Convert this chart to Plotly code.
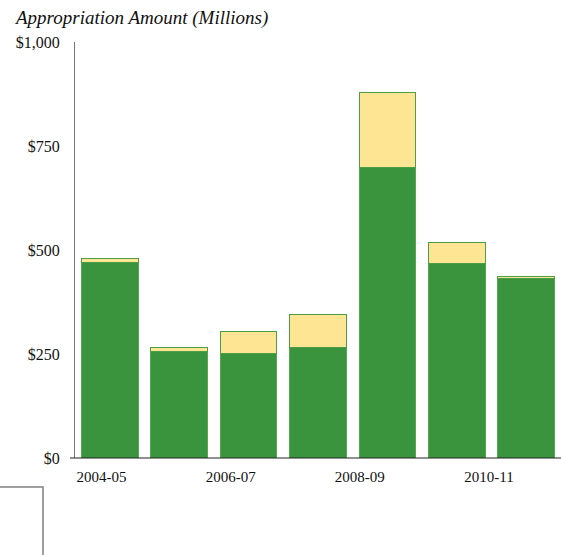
import plotly.graph_objects as go

categories = ["2004-05", "2005-06", "2006-07", "2007-08", "2008-09", "2009-10", "2010-11"]
base_values = [471, 257, 252, 265, 698, 468, 432]
additional_values = [9, 9, 51, 80, 180, 50, 4]
tick_labels = ["2004-05", "2006-07", "2008-09", "2010-11"]
y_tick_vals = [0, 250, 500, 750, 1000]
y_tick_text = ["$0", "$250", "$500", "$750", "$1,000"]

FONT = "Liberation Serif, Times New Roman, serif"
GREEN = "#3a943e"
YELLOW = "#fee594"
EDGE = "#55a84f"

fig = go.Figure()
fig.add_trace(go.Bar(x=categories, y=base_values, marker=dict(color=GREEN, line=dict(color=EDGE, width=1)),
                     name="Base", showlegend=False, hoverinfo="y"))
fig.add_trace(go.Bar(x=categories, y=additional_values, marker=dict(color=YELLOW, line=dict(color="#4a9e44", width=1)),
                     name="Additional", showlegend=False, hoverinfo="y"))

# label axis (offset label placement as in the original)
label_idx = [categories.index(t) for t in tick_labels]
fig.add_trace(go.Scatter(x=[label_idx[0]], y=[0], xaxis="x2", mode="markers",
                         marker=dict(opacity=0), showlegend=False, hoverinfo="skip"))

fig.update_layout(
    width=561, height=555,
    margin=dict(l=75, r=0, t=42, b=97, autoexpand=False),
    paper_bgcolor="white", plot_bgcolor="white",
    barmode="stack", bargap=0.18,
    font=dict(family=FONT, size=15, color="#111"),
    xaxis=dict(showticklabels=False, showgrid=False, zeroline=False, automargin=False,
               showline=False, ticks=""),
    xaxis2=dict(overlaying="x", anchor="y", side="bottom", range=[-0.41, 7.115],
                tickmode="array", tickvals=label_idx, ticktext=tick_labels, automargin=False,
                showgrid=False, zeroline=False, showline=False, ticks="", ticklabelstandoff=8,
                tickfont=dict(family=FONT, size=15, color="#111")),
    yaxis=dict(range=[0, 1000], tickvals=y_tick_vals, ticktext=y_tick_text, automargin=False,
               showgrid=False, zeroline=False, showline=True, linecolor="#777",
               linewidth=1, ticks="", ticklabelstandoff=11,
               tickfont=dict(family=FONT, size=16, color="#111")),
    annotations=[dict(text="<i>Appropriation Amount (Millions)</i>", xref="paper", yref="paper",
                      x=-75/486 + 12/486, y=1 + 42/416 - 5/416, xanchor="left", yanchor="top",
                      showarrow=False, font=dict(family=FONT, size=19, color="#111"))],
    shapes=[
        dict(type="line", xref="paper", yref="paper", x0=-5/486, x1=1, y0=0, y1=0,
             line=dict(color="#222", width=1)),
        dict(type="rect", xref="paper", yref="paper", x0=-76/486, x1=-32/486,
             y0=-29/416, y1=-110/416, line=dict(color="#808080", width=1.5)),
    ],
)

fig.write_html("out.html", config={"displayModeBar": False},
               post_script="document.body.style.margin='0';")
